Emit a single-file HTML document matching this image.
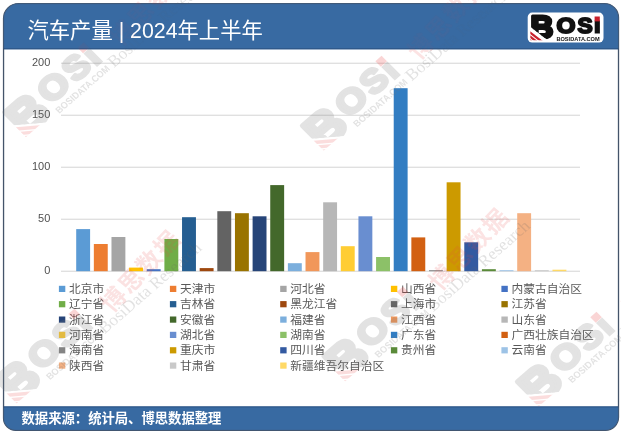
<!DOCTYPE html>
<html lang="zh-CN"><head><meta charset="utf-8"><title>汽车产量 | 2024年上半年</title>
<style>html,body{margin:0;padding:0;background:#fff;}body{width:621px;height:434px;overflow:hidden;}svg{display:block;}text{font-family:"Liberation Sans","Noto Sans CJK SC",sans-serif;}</style></head><body>
<svg width="621" height="434" viewBox="0 0 621 434">
<defs>
<clipPath id="fr"><path d="M18.55 3.55 H604.50 A14 14 0 0 1 618.50 17.55 V417.30 A13 13 0 0 1 605.50 430.30 H15.55 A12 12 0 0 1 3.55 418.30 V18.55 A15 15 0 0 1 18.55 3.55 Z"/></clipPath>
<clipPath id="bcut2"><path d="M0 0 H40 V32 H25.7 L0 12.2 Z"/></clipPath>
<clipPath id="sclip"><rect x="2.5" y="10" width="30" height="17.6"/></clipPath>
<g id="logoB" clip-path="url(#bcut2)">
<text transform="translate(2.78,25.40) scale(1.034,1)" font-size="30.67" font-weight="bold" style='font-family:"Liberation Sans",sans-serif' stroke-width="3.0" stroke-linejoin="round">B</text>
</g>
<g id="logoOSI">
<text transform="translate(28.77,20.10) scale(1.119,1)" font-size="21.75" font-weight="bold" style='font-family:"Liberation Sans",sans-serif' stroke-width="2.0" stroke-linejoin="round">O</text>
<text transform="translate(49.89,20.10) scale(1.044,1)" font-size="21.75" font-weight="bold" style='font-family:"Liberation Sans",sans-serif' stroke-width="2.0" stroke-linejoin="round">S</text>
<text transform="translate(66.20,20.70) scale(1.485,1)" font-size="15.99" font-weight="bold" style='font-family:"Liberation Sans",sans-serif' stroke-width="1.2" stroke-linejoin="miter">I</text>
<text x="28.7" y="28.2" font-size="6.1" font-weight="bold" style='font-family:"Liberation Sans",sans-serif' textLength="43.3" lengthAdjust="spacingAndGlyphs" stroke="none">BOSIDATA.COM</text>
</g>
<g id="stripes" clip-path="url(#sclip)">
<path d="M2.5 18.6 L22.5 34 V36.9 L2.5 21.5 Z"/>
<path d="M2.5 22.7 L22.5 38.1 V40.9 L2.5 25.5 Z"/>
<path d="M2.5 26.5 L22.5 41.9 V45 L2.5 29.6 Z"/>
</g>
<g id="idot"><rect x="66.9" y="3.9" width="5.2" height="4.9"/></g>

<g id="wm">
<g transform="scale(1.57) translate(-38.2,-12.2)" opacity="0.21"><use href="#logoB" fill="#7a7a7a" stroke="#7a7a7a"/><use href="#logoOSI" fill="#7a7a7a" stroke="#7a7a7a"/><use href="#stripes" fill="#e83a3a" transform="translate(0.6,-2.3)" opacity="0.8"/><use href="#idot" fill="#e83a3a"/></g>
<text x="75.5" y="14.3" transform="rotate(-5.5,87.5,5.2)" font-size="24" letter-spacing="1.9" font-weight="bold" fill="#e64545" opacity="0.15">博思数据</text>
<text x="56.5" y="26.3" font-size="17" fill="#666" opacity="0.19" style='font-family:"Liberation Serif","Noto Serif CJK SC",serif'>BosiData Research</text>
</g>
<clipPath id="wmbody"><rect x="0" y="49.3" width="621" height="357.1"/><rect x="0" y="0" width="621" height="3.5"/><rect x="0" y="430.3" width="621" height="6"/></clipPath>
<clipPath id="wmblue"><rect x="0" y="3.5" width="621" height="45.8"/><rect x="0" y="406.4" width="621" height="23.9"/></clipPath>
</defs>
<path d="M18.55 3.55 H604.50 A14 14 0 0 1 618.50 17.55 V417.30 A13 13 0 0 1 605.50 430.30 H15.55 A12 12 0 0 1 3.55 418.30 V18.55 A15 15 0 0 1 18.55 3.55 Z" fill="#fff"/>
<g clip-path="url(#fr)"><rect x="0" y="0" width="621" height="49.3" fill="#386aa3"/><rect x="0" y="406.4" width="621" height="40" fill="#386aa3"/></g>
<path d="M18.55 3.55 H604.50 A14 14 0 0 1 618.50 17.55 V417.30 A13 13 0 0 1 605.50 430.30 H15.55 A12 12 0 0 1 3.55 418.30 V18.55 A15 15 0 0 1 18.55 3.55 Z" fill="none" stroke="#44546a" stroke-width="1.3"/>
<g clip-path="url(#fr)"><rect x="0" y="0" width="621" height="48.3" fill="#386aa3" opacity="0.55"/><rect x="0" y="407.4" width="621" height="40" fill="#386aa3" opacity="0.55"/><rect x="0" y="48.30" width="621" height="1" fill="#2b4d7a" opacity="0.8"/><rect x="0" y="406.40" width="621" height="1" fill="#2b4d7a" opacity="0.8"/></g>
<rect x="61" y="270.75" width="519" height="0.9" fill="#d0d0d0"/>
<text x="50.3" y="274.2" font-size="11" fill="#505050" text-anchor="end">0</text>
<rect x="61" y="218.75" width="519" height="0.9" fill="#d0d0d0"/>
<text x="50.3" y="222.2" font-size="11" fill="#505050" text-anchor="end">50</text>
<rect x="61" y="166.75" width="519" height="0.9" fill="#d0d0d0"/>
<text x="50.3" y="170.2" font-size="11" fill="#505050" text-anchor="end">100</text>
<rect x="61" y="114.75" width="519" height="0.9" fill="#d0d0d0"/>
<text x="50.3" y="118.2" font-size="11" fill="#505050" text-anchor="end">150</text>
<rect x="61" y="62.75" width="519" height="0.9" fill="#d0d0d0"/>
<text x="50.3" y="66.2" font-size="11" fill="#505050" text-anchor="end">200</text>
<rect x="76.20" y="229.10" width="13.90" height="42.10" fill="#5B9BD5"/>
<rect x="93.84" y="244.00" width="13.90" height="27.20" fill="#ED7D31"/>
<rect x="111.48" y="237.00" width="13.90" height="34.20" fill="#A5A5A5"/>
<rect x="129.12" y="267.60" width="13.90" height="3.60" fill="#FFC000"/>
<rect x="146.76" y="269.20" width="13.90" height="2.00" fill="#4472C4"/>
<rect x="164.40" y="239.00" width="13.90" height="32.20" fill="#70AD47"/>
<rect x="182.04" y="217.20" width="13.90" height="54.00" fill="#255E91"/>
<rect x="199.68" y="268.10" width="13.90" height="3.10" fill="#9E480E"/>
<rect x="217.32" y="211.20" width="13.90" height="60.00" fill="#636363"/>
<rect x="234.96" y="213.20" width="13.90" height="58.00" fill="#997300"/>
<rect x="252.60" y="216.30" width="13.90" height="54.90" fill="#264478"/>
<rect x="270.24" y="185.10" width="13.90" height="86.10" fill="#43682B"/>
<rect x="287.88" y="263.20" width="13.90" height="8.00" fill="#7CAFDD"/>
<rect x="305.52" y="252.10" width="13.90" height="19.10" fill="#F1975A"/>
<rect x="323.16" y="202.30" width="13.90" height="68.90" fill="#B7B7B7"/>
<rect x="340.80" y="246.20" width="13.90" height="25.00" fill="#FFCD33"/>
<rect x="358.44" y="216.30" width="13.90" height="54.90" fill="#698ED0"/>
<rect x="376.08" y="257.00" width="13.90" height="14.20" fill="#8CC168"/>
<rect x="393.72" y="88.20" width="13.90" height="183.00" fill="#327DC2"/>
<rect x="411.36" y="237.40" width="13.90" height="33.80" fill="#D26012"/>
<rect x="429.00" y="270.20" width="13.90" height="1.00" fill="#848484"/>
<rect x="446.64" y="182.30" width="13.90" height="88.90" fill="#CC9A00"/>
<rect x="464.28" y="242.30" width="13.90" height="28.90" fill="#335AA1"/>
<rect x="481.92" y="269.20" width="13.90" height="2.00" fill="#5A8A39"/>
<rect x="499.56" y="270.20" width="13.90" height="1.00" fill="#9DC3E6"/>
<rect x="517.20" y="213.20" width="13.90" height="58.00" fill="#F4B183"/>
<rect x="534.84" y="270.20" width="13.90" height="1.00" fill="#C9C9C9"/>
<rect x="552.48" y="269.70" width="13.90" height="1.50" fill="#FFD966"/>
<rect x="58.9" y="285.8" width="6.4" height="6.2" fill="#5B9BD5"/>
<text x="69.0" y="292.8" font-size="11.75" fill="#595959">北京市</text>
<rect x="169.9" y="285.8" width="6.4" height="6.2" fill="#ED7D31"/>
<text x="180.0" y="292.8" font-size="11.75" fill="#595959">天津市</text>
<rect x="280.2" y="285.8" width="6.4" height="6.2" fill="#A5A5A5"/>
<text x="290.3" y="292.8" font-size="11.75" fill="#595959">河北省</text>
<rect x="390.9" y="285.8" width="6.4" height="6.2" fill="#FFC000"/>
<text x="401.0" y="292.8" font-size="11.75" fill="#595959">山西省</text>
<rect x="501.4" y="285.8" width="6.4" height="6.2" fill="#4472C4"/>
<text x="511.5" y="292.8" font-size="11.75" fill="#595959">内蒙古自治区</text>
<rect x="58.9" y="301.1" width="6.4" height="6.2" fill="#70AD47"/>
<text x="69.0" y="308.1" font-size="11.75" fill="#595959">辽宁省</text>
<rect x="169.9" y="301.1" width="6.4" height="6.2" fill="#255E91"/>
<text x="180.0" y="308.1" font-size="11.75" fill="#595959">吉林省</text>
<rect x="280.2" y="301.1" width="6.4" height="6.2" fill="#9E480E"/>
<text x="290.3" y="308.1" font-size="11.75" fill="#595959">黑龙江省</text>
<rect x="390.9" y="301.1" width="6.4" height="6.2" fill="#636363"/>
<text x="401.0" y="308.1" font-size="11.75" fill="#595959">上海市</text>
<rect x="501.4" y="301.1" width="6.4" height="6.2" fill="#997300"/>
<text x="511.5" y="308.1" font-size="11.75" fill="#595959">江苏省</text>
<rect x="58.9" y="316.5" width="6.4" height="6.2" fill="#264478"/>
<text x="69.0" y="323.5" font-size="11.75" fill="#595959">浙江省</text>
<rect x="169.9" y="316.5" width="6.4" height="6.2" fill="#43682B"/>
<text x="180.0" y="323.5" font-size="11.75" fill="#595959">安徽省</text>
<rect x="280.2" y="316.5" width="6.4" height="6.2" fill="#7CAFDD"/>
<text x="290.3" y="323.5" font-size="11.75" fill="#595959">福建省</text>
<rect x="390.9" y="316.5" width="6.4" height="6.2" fill="#F1975A"/>
<text x="401.0" y="323.5" font-size="11.75" fill="#595959">江西省</text>
<rect x="501.4" y="316.5" width="6.4" height="6.2" fill="#B7B7B7"/>
<text x="511.5" y="323.5" font-size="11.75" fill="#595959">山东省</text>
<rect x="58.9" y="331.8" width="6.4" height="6.2" fill="#FFCD33"/>
<text x="69.0" y="338.8" font-size="11.75" fill="#595959">河南省</text>
<rect x="169.9" y="331.8" width="6.4" height="6.2" fill="#698ED0"/>
<text x="180.0" y="338.8" font-size="11.75" fill="#595959">湖北省</text>
<rect x="280.2" y="331.8" width="6.4" height="6.2" fill="#8CC168"/>
<text x="290.3" y="338.8" font-size="11.75" fill="#595959">湖南省</text>
<rect x="390.9" y="331.8" width="6.4" height="6.2" fill="#327DC2"/>
<text x="401.0" y="338.8" font-size="11.75" fill="#595959">广东省</text>
<rect x="501.4" y="331.8" width="6.4" height="6.2" fill="#D26012"/>
<text x="511.5" y="338.8" font-size="11.75" fill="#595959">广西壮族自治区</text>
<rect x="58.9" y="347.2" width="6.4" height="6.2" fill="#848484"/>
<text x="69.0" y="354.2" font-size="11.75" fill="#595959">海南省</text>
<rect x="169.9" y="347.2" width="6.4" height="6.2" fill="#CC9A00"/>
<text x="180.0" y="354.2" font-size="11.75" fill="#595959">重庆市</text>
<rect x="280.2" y="347.2" width="6.4" height="6.2" fill="#335AA1"/>
<text x="290.3" y="354.2" font-size="11.75" fill="#595959">四川省</text>
<rect x="390.9" y="347.2" width="6.4" height="6.2" fill="#5A8A39"/>
<text x="401.0" y="354.2" font-size="11.75" fill="#595959">贵州省</text>
<rect x="501.4" y="347.2" width="6.4" height="6.2" fill="#9DC3E6"/>
<text x="511.5" y="354.2" font-size="11.75" fill="#595959">云南省</text>
<rect x="58.9" y="362.5" width="6.4" height="6.2" fill="#F4B183"/>
<text x="69.0" y="369.5" font-size="11.75" fill="#595959">陕西省</text>
<rect x="169.9" y="362.5" width="6.4" height="6.2" fill="#C9C9C9"/>
<text x="180.0" y="369.5" font-size="11.75" fill="#595959">甘肃省</text>
<rect x="280.2" y="362.5" width="6.4" height="6.2" fill="#FFD966"/>
<text x="290.3" y="369.5" font-size="11.75" fill="#595959">新疆维吾尔自治区</text>
<text x="27.4" y="38.4" font-size="21.33" fill="#fff">汽车产量 | 2024年上半年</text>
<text x="21.5" y="422.7" font-size="13.33" font-weight="bold" fill="#fff">数据来源：统计局、博思数据整理</text>
<g transform="translate(527.7,12.6)"><rect x="0" y="0" width="75.8" height="30" rx="4.5" ry="4.5" fill="#fff"/><use href="#logoB" fill="#111" stroke="#111"/><use href="#logoOSI" fill="#111" stroke="#111"/><use href="#stripes" fill="#c8202c"/><use href="#idot" fill="#c8202c"/></g>
<g clip-path="url(#wmbody)"><use href="#wm" transform="matrix(0.7547,-0.6561,0.7071,0.7071,52.8,86.5)"/><use href="#wm" transform="matrix(0.7547,-0.6561,0.7071,0.7071,350.6,100.0)"/><use href="#wm" transform="matrix(0.7547,-0.6561,0.7071,0.7071,43.5,352.8)"/><use href="#wm" transform="matrix(0.7547,-0.6561,0.7071,0.7071,372.0,330.7)"/><use href="#wm" transform="matrix(0.7547,-0.6561,0.7071,0.7071,565.5,356.0)"/></g>
<g clip-path="url(#wmblue)" opacity="0.3"><use href="#wm" transform="matrix(0.7547,-0.6561,0.7071,0.7071,52.8,86.5)"/><use href="#wm" transform="matrix(0.7547,-0.6561,0.7071,0.7071,350.6,100.0)"/><use href="#wm" transform="matrix(0.7547,-0.6561,0.7071,0.7071,43.5,352.8)"/><use href="#wm" transform="matrix(0.7547,-0.6561,0.7071,0.7071,372.0,330.7)"/><use href="#wm" transform="matrix(0.7547,-0.6561,0.7071,0.7071,565.5,356.0)"/></g>
</svg></body></html>
